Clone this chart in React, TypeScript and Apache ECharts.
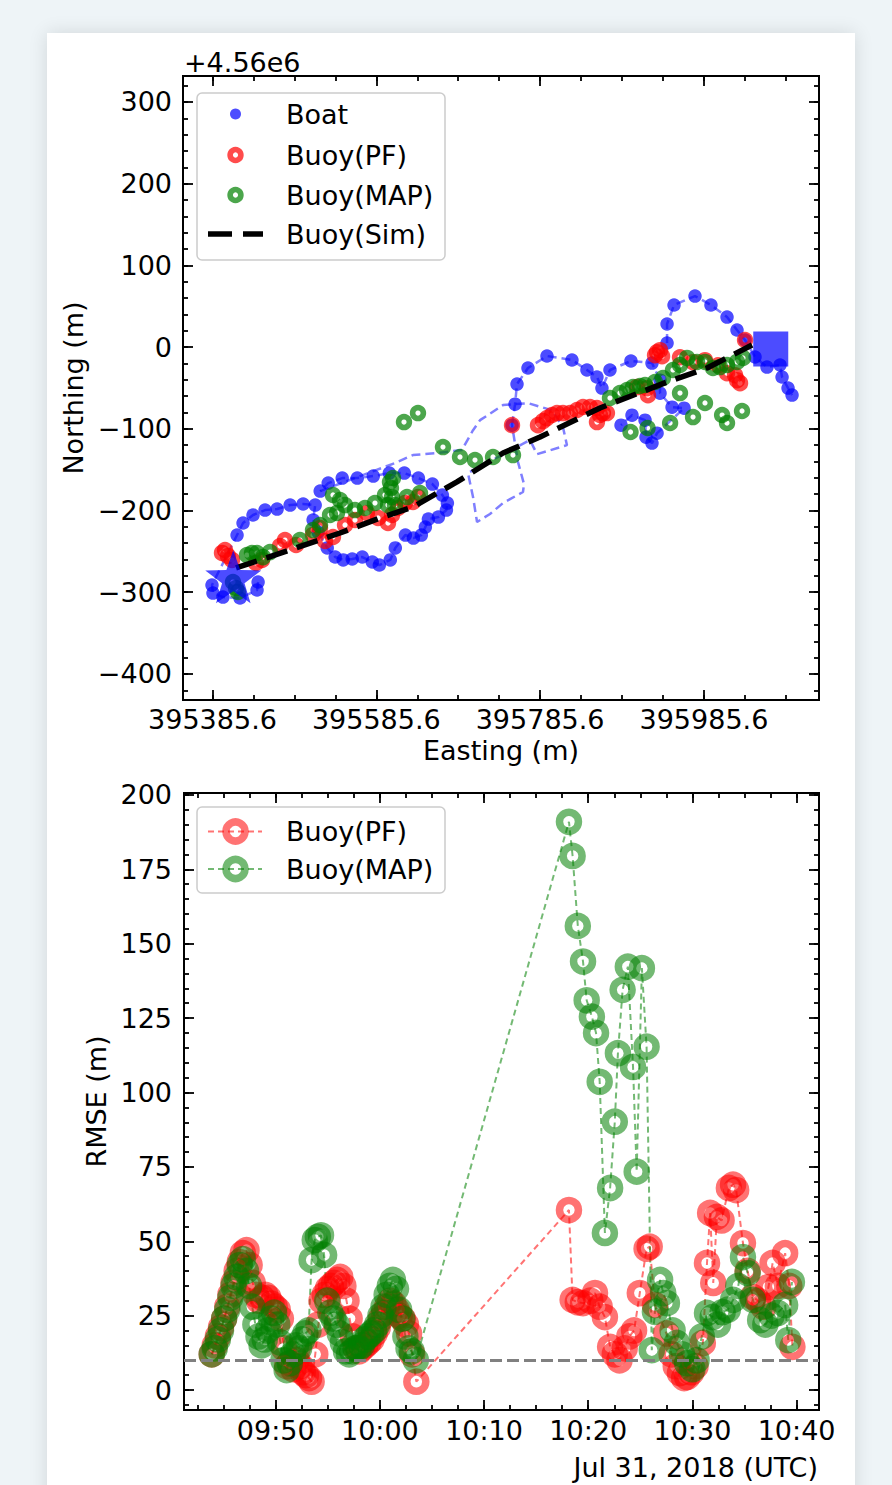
import React, { useEffect, useRef } from 'react';
import * as echarts from 'echarts';

// ---------- DATA ----------
// Top panel: easting as offset from E_REF (m), northing as offset from 4.56e6 (m)
const E_REF = 395385.6;
const NORTHING_OFFSET_TEXT = '+4.56e6';

const boatTrackA: number[][] = [
  [55.7, -287.5], [54.4, -297.3], [33.6, -307.1], [12.8, -305.9], [0.6, -301.0], [-0.6, -291.2],
  [30.0, -230.0], [37.3, -215.3], [49.5, -205.5], [64.2, -199.4], [78.9, -198.2], [94.8, -193.3],
  [110.7, -192.0], [125.4, -193.3], [122.9, -211.6], [129.0, -226.3], [140.1, -245.8], [149.8, -256.9],
  [159.6, -260.5], [170.6, -259.3], [182.9, -256.9], [195.1, -263.0], [203.7, -266.7], [217.1, -260.5],
  [223.2, -245.8], [235.5, -230.0], [245.3, -233.7], [255.0, -230.0], [259.9, -220.3], [263.6, -210.5],
  [275.8, -208.0], [285.6, -199.4], [286.8, -190.9], [280.7, -181.1], [268.5, -167.6], [251.4, -160.3],
  [234.2, -154.2], [215.9, -154.2], [196.3, -157.8], [176.8, -160.3], [158.4, -160.3], [141.3, -166.4],
  [131.5, -176.2],
];
const boatGap: number[][] = [
  [131.5, -176.2], [222.8, -141.9], [244.8, -132.1], [274.1, -129.6], [304.6, -125.9], [318.1, -101.7],
  [326.7, -89.4], [354.7, -71.0], [385.2, -68.6], [414.5, -77.2], [427.9, -98.0], [432.8, -120.0],
  [396.2, -131.1], [387.7, -113.7], [311.9, -154.1], [318.1, -183.5], [323.0, -214.1], [338.8, -204.3],
  [354.7, -190.8], [379.1, -177.3], [380.3, -167.6], [373.0, -140.7], [365.7, -95.5],
];
const boatTrackB: number[][] = [
  [365.7, -95.5], [369.4, -69.8], [371.8, -45.3], [385.2, -25.6], [408.4, -10.9], [438.9, -15.8],
  [457.2, -28.0], [469.4, -36.6], [475.5, -50.1], [485.3, -28.0], [510.9, -17.0], [536.6, -19.5],
  [546.4, -40.5], [546.4, -56.4], [561.1, -73.5], [575.8, -74.7], [542.8, -105.3], [536.6, -117.5],
  [529.3, -110.2], [528.1, -89.4], [512.2, -83.3], [498.8, -95.5],
];
const boatTrackC: number[][] = [
  [555.0, 5.0], [555.0, 28.3], [563.5, 51.5], [589.1, 62.5], [608.6, 51.5], [628.2, 36.8],
  [640.4, 20.9], [650.2, 8.7], [662.4, -12.1], [677.0, -24.4], [692.9, -21.9], [695.4, -36.6],
  [702.7, -50.1], [707.6, -58.7],
];
const boatStart: number[] = [25.4, -281.0];
const boatEnd: number[] = [681.6, -2.3];

const buoyPfTrack: number[][] = [
  [11.6, -251.9], [18.9, -255.6], [23.8, -260.5], [15.3, -248.3], [53.1, -264.2], [60.4, -260.5],
  [82.4, -243.4], [88.5, -236.1], [102.0, -242.2], [122.7, -229.9], [131.3, -221.4], [137.4, -237.3],
  [147.1, -232.4], [161.8, -217.7], [174.0, -211.6], [188.6, -203.0], [202.1, -209.1], [214.3, -215.3],
  [219.2, -205.5], [226.5, -196.9], [235.0, -190.8], [244.8, -189.6], [250.9, -183.5],
  [365.7, -95.5], [397.4, -95.5], [403.5, -90.6], [408.4, -86.9], [414.5, -83.1], [420.6, -80.7],
  [427.9, -80.7], [436.5, -80.7], [445.0, -77.0], [452.4, -73.3], [460.9, -73.3], [469.4, -74.6],
  [473.1, -83.1], [469.4, -91.7], [476.7, -80.7], [481.6, -80.7],
  [518.3, -49.0], [530.5, -50.3], [531.7, -58.9], [540.3, -9.9], [542.8, -6.2], [546.4, -3.8],
  [548.9, -11.1], [570.8, -12.4], [586.7, -18.5], [601.3, -16.0], [617.2, -22.2], [628.2, -31.9],
  [640.4, -40.5], [650.2, 8.7], [638.0, -34.4], [644.1, -44.2],
];
const buoyMapTrack: number[][] = [
  [25.0, -287.5], [31.1, -299.7], [28.7, -294.8], [42.1, -254.5], [48.2, -252.1], [54.3, -252.1],
  [61.7, -257.0], [70.2, -250.8], [106.8, -236.1], [122.7, -223.9], [131.3, -217.7], [143.5, -205.5],
  [152.0, -203.0], [147.1, -181.0], [155.7, -187.1], [161.8, -193.3], [174.0, -199.4], [186.2, -196.9],
  [198.4, -190.8], [210.6, -181.0], [216.7, -165.1], [220.4, -160.2], [217.9, -172.5], [219.2, -183.5],
  [222.8, -193.3], [214.3, -193.3], [237.5, -183.5], [253.4, -178.6],
  [233.8, -91.7], [250.9, -80.7], [281.4, -122.3], [302.2, -134.5], [320.5, -138.2], [342.5, -134.5],
  [366.9, -132.1],
  [485.3, -62.3], [497.5, -56.2], [506.1, -52.5], [513.4, -48.8], [521.9, -47.6], [528.1, -46.4],
  [540.3, -42.7], [550.0, -37.8], [562.2, -28.0], [570.8, -21.9], [579.4, -13.3], [591.6, -18.2],
  [601.3, -18.2], [611.1, -25.6], [619.6, -24.4], [628.2, -21.9], [640.4, -18.2], [647.7, -13.3],
  [570.8, -56.2], [601.3, -68.4], [586.7, -85.6], [622.2, -83.1], [628.2, -92.9], [646.5, -78.2],
  [558.7, -92.9], [510.4, -103.9], [531.2, -99.0],
];
const buoySimTrack: number[][] = [
  [28.7, -270.3], [94.6, -248.3], [155.7, -227.5], [204.5, -209.1], [244.8, -195.6], [298.5, -165.0],
  [354.7, -129.6], [399.9, -110.0], [473.1, -74.5], [555.0, -42.7], [603.9, -25.6], [658.8, 2.6],
];

const eastingTicks = [0, 200, 400, 600];
const northingTicks = [-400, -300, -200, -100, 0, 100, 200, 300];

// Bottom panel: [minutes after 09:00 UTC, RMSE (m)]
const pfRmse: number[][] = [
  [43.86, 12], [44.15, 15], [44.45, 18], [44.75, 21], [45.05, 24], [45.35, 28], [45.65, 32], [45.95, 36],
  [46.25, 40], [46.55, 43], [46.85, 46], [47.2, 47], [47.5, 42], [47.8, 36], [48.1, 32], [48.4, 30],
  [48.7, 31], [49.0, 32], [49.3, 31], [49.6, 29], [49.9, 28], [50.2, 27], [50.5, 24], [50.8, 14],
  [51.1, 8], [51.4, 9], [51.7, 7], [52.0, 10], [52.3, 8], [52.6, 6], [52.9, 5], [53.2, 4],
  [53.45, 2.8], [53.8, 12], [54.1, 22], [54.4, 30], [54.7, 32], [55.0, 34], [55.3, 35], [55.6, 36],
  [55.9, 37], [56.2, 38], [56.5, 35], [56.8, 30], [57.1, 24], [57.4, 18], [57.7, 14], [58.0, 13],
  [58.3, 14], [58.6, 15], [58.9, 16], [59.2, 17], [59.5, 19], [59.8, 21], [60.1, 24], [60.4, 26],
  [60.7, 28], [61.0, 30], [61.3, 29], [61.6, 27], [61.9, 25], [62.2, 24], [62.5, 22], [62.8, 19],
  [63.1, 12], [63.5, 2.8],
  [78.15, 60.5], [78.5, 30.3], [79.0, 29.5], [79.5, 29.2], [80.2, 30.0], [80.65, 32.6], [81.1, 28.0],
  [81.6, 24.5], [82.1, 14.5], [82.55, 12.0], [83.0, 10.0], [83.5, 14.0], [83.95, 18.0], [84.4, 20.0],
  [84.95, 32.6], [85.6, 47.5], [85.9, 48.2], [86.4, 28.6], [87.5, 19.0], [88.0, 12.0], [88.4, 8.0],
  [88.8, 5.7], [89.2, 4.0], [89.5, 4.4], [89.9, 6.0], [90.3, 8.0], [91.0, 15.8], [91.4, 42.7],
  [91.7, 59.5], [92.0, 36.0], [92.35, 58.2], [92.8, 57.0], [93.5, 67.9], [93.9, 69.0], [94.2, 67.2],
  [94.85, 49.4], [95.3, 40.0], [95.8, 31.3], [96.3, 30.0], [96.8, 28.0], [97.3, 34.6], [97.7, 42.7],
  [98.2, 35.0], [98.9, 46.0], [99.3, 35.0], [99.6, 14.5],
];
const mapRmse: number[][] = [
  [43.86, 12], [44.15, 14], [44.45, 17], [44.75, 20], [45.05, 24], [45.35, 27], [45.65, 31], [45.95, 35],
  [46.25, 38], [46.55, 42], [46.85, 44], [47.15, 40], [47.45, 35], [47.75, 28], [48.05, 22], [48.35, 18],
  [48.65, 15], [48.95, 17], [49.25, 20], [49.55, 24], [49.85, 26], [50.15, 22], [50.45, 16], [50.75, 10],
  [51.05, 6.7], [51.35, 9], [51.65, 12], [51.95, 15], [52.25, 14], [52.55, 17], [52.85, 19], [53.15, 20],
  [53.45, 43.7], [53.75, 50.4], [54.05, 51.5], [54.35, 52], [54.65, 45.4], [54.95, 30], [55.25, 26],
  [55.55, 24], [55.85, 22], [56.15, 19], [56.45, 16], [56.75, 13], [57.05, 12], [57.35, 13], [57.65, 14],
  [57.95, 14], [58.25, 15], [58.55, 17], [58.85, 18], [59.15, 19], [59.45, 20], [59.75, 22], [60.05, 25],
  [60.35, 28], [60.65, 32], [60.95, 35], [61.25, 37], [61.55, 34], [61.85, 27], [62.15, 24], [62.45, 18],
  [62.75, 14], [63.05, 13], [63.45, 10],
  [78.15, 191.0], [78.5, 179.5], [79.0, 156.0], [79.5, 144.0], [79.85, 131.0], [80.35, 125.5],
  [80.75, 120.0], [81.1, 103.6], [81.6, 52.8], [82.1, 67.9], [82.55, 90.2], [82.85, 113.2],
  [83.3, 134.5], [83.8, 142.3], [84.3, 108.6], [84.65, 73.4], [85.15, 141.8], [85.6, 115.4],
  [86.1, 13.4], [86.4, 26.3], [86.9, 37.0], [87.2, 32.6], [87.55, 29.2], [88.1, 20.0], [88.5, 15.8],
  [89.0, 12.0], [89.5, 9.0], [90.0, 7.0], [90.4, 10.0], [90.9, 18.0], [91.4, 25.9], [91.95, 24.5],
  [92.45, 22.0], [92.9, 26.2], [93.4, 27.0], [93.9, 30.3], [94.4, 35.0], [94.85, 44.7], [95.3, 39.3],
  [95.8, 30.3], [96.5, 23.5], [97.0, 22.0], [97.6, 25.0], [98.2, 25.9], [98.9, 28.6], [99.2, 16.8],
  [99.55, 36.3],
];
const RMSE_THRESHOLD = 10;
const rmseTicks = [0, 25, 50, 75, 100, 125, 150, 175, 200];
const timeTickLabels = ['09:50', '10:00', '10:10', '10:20', '10:30', '10:40'];
const DATE_LABEL = 'Jul 31, 2018 (UTC)';

// ---------- HELPERS ----------
const FONT = '"DejaVu Sans", Verdana, sans-serif';
const FS = 27;
const hhmmToMin = (s: string) => {
  const [h, m] = s.split(':').map(Number);
  return (h - 9) * 60 + m;
};
const minToHhmm = (v: number) => {
  const tot = Math.round(v) + 9 * 60;
  const h = Math.floor(tot / 60);
  const m = tot % 60;
  return `${String(h).padStart(2, '0')}:${String(m).padStart(2, '0')}`;
};
const range = (a: number, b: number, step: number) => {
  const out: number[] = [];
  for (let v = a; v <= b + 1e-9; v += step) out.push(Math.round(v * 1000) / 1000);
  return out;
};
const minusSign = (v: number) => String(v).replace('-', '\u2212');

const tickLine = { color: '#000', width: 1.8 };

function sideAxes(
  gridIndex: number,
  min: number,
  max: number,
  major: number[],
  minor: number[],
  pos: string,
  opp: string,
  label: any,
) {
  const base = {
    type: 'value',
    gridIndex,
    min,
    max,
    axisLine: { show: false, onZero: false },
    splitLine: { show: false },
  };
  return [
    {
      ...base,
      position: pos,
      axisTick: { show: true, inside: true, length: 10, customValues: major, lineStyle: tickLine },
      axisLabel: {
        show: true,
        customValues: major,
        fontFamily: FONT,
        fontSize: FS,
        color: '#000',
        margin: label.margin,
        formatter: label.formatter,
      },
      name: label.name,
      nameLocation: 'middle',
      nameGap: label.nameGap,
      nameTextStyle: { fontFamily: FONT, fontSize: FS, color: '#000' },
    },
    {
      ...base,
      position: pos,
      axisTick: { show: true, inside: true, length: 5, customValues: minor, lineStyle: tickLine },
      axisLabel: { show: false },
    },
    {
      ...base,
      position: opp,
      axisTick: { show: true, inside: true, length: 10, customValues: major, lineStyle: tickLine },
      axisLabel: { show: false },
    },
    {
      ...base,
      position: opp,
      axisTick: { show: true, inside: true, length: 5, customValues: minor, lineStyle: tickLine },
      axisLabel: { show: false },
    },
  ];
}

const STAR =
  'path://M0,-10L2.35,-3.24L9.51,-3.09L3.8,1.24L5.88,8.09L0,4.0L-5.88,8.09L-3.8,1.24L-9.51,-3.09L-2.35,-3.24Z';

const BLUE = 'rgba(0,0,255,0.7)';
const BLUE_LINE = 'rgba(0,0,255,0.5)';
const RED_TOP = 'rgba(255,0,0,0.7)';
const GREEN_TOP = 'rgba(0,128,0,0.7)';
const RED_BOT = 'rgba(255,0,0,0.55)';
const GREEN_BOT = 'rgba(0,128,0,0.55)';

// ring geometry (symbol diameter at stroke centre, stroke width)
const TOP_RING = { size: 10.8, border: 5.6 };
const BOT_RING = { size: 19, border: 7.5 };

export default function App() {
  const ref = useRef<HTMLDivElement>(null);

  useEffect(() => {
    if (!ref.current) return;
    const chart = echarts.init(ref.current, null, { renderer: 'svg' });

    const G0 = { left: 183, top: 76, width: 636, height: 624 };
    const G1 = { left: 184, top: 793, width: 635, height: 617 };
    const e0 = [-36.0, 740.5];
    const n0 = [-431.9, 331.8];
    const t1 = [41.2, 102.15];
    const r1 = [-6.72, 200.67];

    const timeTicks = timeTickLabels.map(hhmmToMin);

    const xAxes = [
      ...sideAxes(0, e0[0], e0[1], eastingTicks, range(0, 700, 50), 'bottom', 'top', {
        margin: 6,
        formatter: (v: number) => (v + E_REF).toFixed(1),
        name: 'Easting (m)',
        nameGap: 37,
      }),
      ...sideAxes(1, t1[0], t1[1], timeTicks, range(42.5, 100, 2.5), 'bottom', 'top', {
        margin: 7,
        formatter: (v: number) => minToHhmm(v),
        name: '',
        nameGap: 0,
      }),
    ];
    const yAxes = [
      ...sideAxes(0, n0[0], n0[1], northingTicks, range(-420, 320, 20), 'left', 'right', {
        margin: 11,
        formatter: minusSign,
        name: 'Northing (m)',
        nameGap: 92,
      }),
      ...sideAxes(1, r1[0], r1[1], rmseTicks, range(-5, 200, 5), 'left', 'right', {
        margin: 12,
        formatter: minusSign,
        name: 'RMSE (m)',
        nameGap: 70,
      }),
    ];

    const boatLine = (data: number[][], withDots: boolean) => ({
      type: 'line',
      xAxisIndex: 0,
      yAxisIndex: 0,
      data,
      symbol: withDots ? 'circle' : 'none',
      symbolSize: 13.5,
      showAllSymbol: true,
      itemStyle: { color: BLUE, opacity: 1 },
      lineStyle: { color: BLUE_LINE, width: 2.5, type: [9, 5] },
      z: 2,
    });
    const ringScatter = (data: number[][], color: string) => ({
      type: 'scatter',
      xAxisIndex: 0,
      yAxisIndex: 0,
      data,
      symbol: 'circle',
      symbolSize: TOP_RING.size,
      itemStyle: { color: 'rgba(0,0,0,0)', borderColor: color, borderWidth: TOP_RING.border, opacity: 1 },
      z: 3,
    });
    const rmseLine = (data: number[][], color: string) => ({
      type: 'line',
      xAxisIndex: 4,
      yAxisIndex: 4,
      data,
      symbol: 'circle',
      symbolSize: BOT_RING.size,
      showAllSymbol: true,
      itemStyle: { color: 'rgba(0,0,0,0)', borderColor: color, borderWidth: BOT_RING.border, opacity: 1 },
      lineStyle: { color, width: 2, type: [6, 4] },
      z: 3,
    });

    const legendText = (x: number, y: number, text: string) => ({
      type: 'text',
      x,
      y,
      z: 101,
      style: { text, fontFamily: FONT, fontSize: FS, fill: '#000', align: 'left', verticalAlign: 'middle' },
    });
    const ring = (cx: number, cy: number, geom: { size: number; border: number }, color: string) => ({
      type: 'circle',
      z: 101,
      shape: { cx, cy, r: geom.size / 2 },
      style: { fill: 'none', stroke: color, lineWidth: geom.border },
    });

    const option: any = {
      animation: false,
      backgroundColor: 'transparent',
      grid: [
        { ...G0, show: true, borderColor: '#000', borderWidth: 2, backgroundColor: '#fff', containLabel: false },
        { ...G1, show: true, borderColor: '#000', borderWidth: 2, backgroundColor: '#fff', containLabel: false },
      ],
      xAxis: xAxes,
      yAxis: yAxes,
      series: [
        boatLine(boatGap, false),
        boatLine(boatTrackA, true),
        boatLine(boatTrackB, true),
        boatLine(boatTrackC, true),
        ringScatter(buoyPfTrack, RED_TOP),
        ringScatter(buoyMapTrack, GREEN_TOP),
        {
          type: 'line',
          xAxisIndex: 0,
          yAxisIndex: 0,
          data: buoySimTrack,
          symbol: 'none',
          lineStyle: { color: '#000', width: 5.5, type: [22, 10] },
          z: 4,
        },
        {
          type: 'scatter',
          xAxisIndex: 0,
          yAxisIndex: 0,
          data: [boatStart],
          symbol: STAR,
          symbolSize: [56, 53],
          itemStyle: { color: BLUE, opacity: 1 },
          z: 5,
        },
        {
          type: 'scatter',
          xAxisIndex: 0,
          yAxisIndex: 0,
          data: [boatEnd],
          symbol: 'rect',
          symbolSize: 35,
          itemStyle: { color: BLUE, opacity: 1 },
          z: 5,
        },
        rmseLine(pfRmse, RED_BOT),
        {
          ...rmseLine(mapRmse, GREEN_BOT),
          markLine: {
            silent: true,
            symbol: 'none',
            label: { show: false },
            lineStyle: { color: '#808080', width: 3, type: [12, 5] },
            data: [{ yAxis: RMSE_THRESHOLD }],
            z: 6,
          },
        },
      ],
      graphic: [
        {
          type: 'text',
          x: 184,
          y: 62,
          z: 101,
          style: { text: NORTHING_OFFSET_TEXT, fontFamily: FONT, fontSize: FS, fill: '#000', align: 'left', verticalAlign: 'middle' },
        },
        {
          type: 'text',
          x: 818,
          y: 1467,
          z: 101,
          style: { text: DATE_LABEL, fontFamily: FONT, fontSize: FS, fill: '#000', align: 'right', verticalAlign: 'middle' },
        },
        // top legend
        {
          type: 'rect',
          z: 100,
          shape: { x: 197, y: 93, width: 248, height: 167, r: 5 },
          style: { fill: 'rgba(255,255,255,0.8)', stroke: '#cccccc', lineWidth: 1.5 },
        },
        { type: 'circle', z: 101, shape: { cx: 235.5, cy: 114, r: 5.5 }, style: { fill: BLUE } },
        ring(235.5, 155, TOP_RING, RED_TOP),
        ring(235.5, 195, TOP_RING, GREEN_TOP),
        {
          type: 'line',
          z: 101,
          shape: { x1: 208, y1: 234, x2: 263, y2: 234 },
          style: { stroke: '#000', lineWidth: 5.5, lineDash: [24, 11] },
        },
        legendText(286, 114, 'Boat'),
        legendText(286, 155, 'Buoy(PF)'),
        legendText(286, 195, 'Buoy(MAP)'),
        legendText(286, 234, 'Buoy(Sim)'),
        // bottom legend
        {
          type: 'rect',
          z: 100,
          shape: { x: 197, y: 807, width: 248, height: 86, r: 5 },
          style: { fill: 'rgba(255,255,255,0.8)', stroke: '#cccccc', lineWidth: 1.5 },
        },
        {
          type: 'line',
          z: 101,
          shape: { x1: 208, y1: 831.5, x2: 262, y2: 831.5 },
          style: { stroke: RED_BOT, lineWidth: 2, lineDash: [6, 4] },
        },
        ring(235.5, 831.5, BOT_RING, RED_BOT),
        {
          type: 'line',
          z: 101,
          shape: { x1: 208, y1: 869, x2: 262, y2: 869 },
          style: { stroke: GREEN_BOT, lineWidth: 2, lineDash: [6, 4] },
        },
        ring(235.5, 869, BOT_RING, GREEN_BOT),
        legendText(286, 831.5, 'Buoy(PF)'),
        legendText(286, 869, 'Buoy(MAP)'),
      ],
    };

    chart.setOption(option);
    return () => chart.dispose();
  }, []);

  return (
    <div style={{ position: 'absolute', left: 0, top: 0, width: 892, height: 1485, background: '#eef4f7', overflow: 'hidden' }}>
      <div
        style={{
          position: 'absolute',
          left: 47,
          top: 33,
          width: 808,
          height: 1480,
          background: '#fff',
          boxShadow: '0 0 18px rgba(0,0,0,0.12)',
        }}
      />
      <div ref={ref} style={{ position: 'absolute', left: 0, top: 0, width: 892, height: 1485 }} />
    </div>
  );
}
